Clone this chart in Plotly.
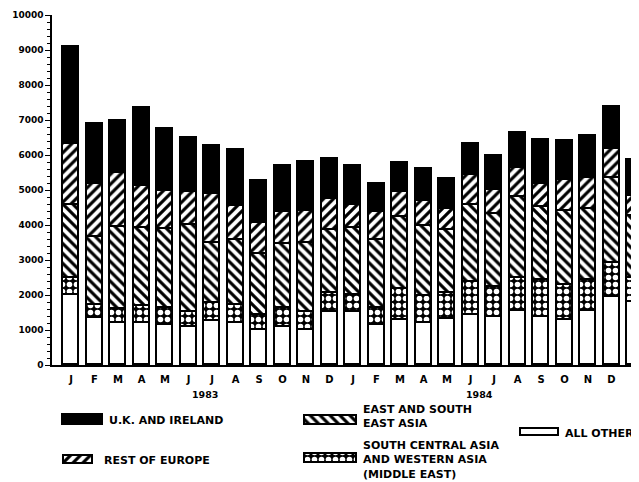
import plotly.graph_objects as go

months = ["J", "F", "M", "A", "M", "J", "J", "A", "S", "O", "N", "D",
          "J", "F", "M", "A", "M", "J", "J", "A", "S", "O", "N", "D", "J"]
years = ["1983", "1984"]

all_other = [2000, 1330, 1210, 1210, 1150, 1090, 1270, 1200, 1010, 1080, 990, 1510,
             1510, 1130, 1300, 1190, 1310, 1430, 1380, 1550, 1380, 1290, 1530, 1940, 1810]
south_central_asia = [500, 380, 380, 490, 470, 420, 510, 520, 420, 540, 520, 560,
                      490, 510, 880, 770, 760, 930, 860, 930, 1040, 1000, 910, 970, 670]
east_asia = [2080, 1950, 2350, 2220, 2260, 2480, 1700, 1840, 1730, 1850, 1990, 1790,
             1920, 1920, 2050, 2020, 1800, 2220, 2080, 2310, 2100, 2100, 2020, 2420, 1770]
rest_of_europe = [1730, 1520, 1560, 1190, 1100, 940, 1410, 990, 900, 890, 890, 880,
                  640, 800, 710, 700, 590, 840, 690, 830, 660, 890, 890, 850, 570]
uk_ireland = [2790, 1700, 1470, 2230, 1760, 1560, 1380, 1600, 1200, 1320, 1410, 1150,
              1140, 820, 820, 910, 850, 900, 960, 1020, 1240, 1120, 1190, 1190, 1050]

series_names = ["ALL OTHER", "SOUTH CENTRAL ASIA<br>AND WESTERN ASIA<br>(MIDDLE EAST)",
                "EAST AND SOUTH<br>EAST ASIA", "REST OF EUROPE", "U.K. AND IRELAND"]

FONT = "DejaVu Sans"
x = list(range(len(months)))

styles = [
    dict(color="white", pattern=dict(shape="")),
    dict(color="black", pattern=dict(shape=".", fgcolor="white", bgcolor="black", size=7, solidity=0.5, fillmode="replace")),
    dict(color="white", pattern=dict(shape="\\", fgcolor="black", bgcolor="white", size=7, solidity=0.45, fillmode="replace")),
    dict(color="white", pattern=dict(shape="/", fgcolor="black", bgcolor="white", size=7, solidity=0.45, fillmode="replace")),
    dict(color="black", pattern=dict(shape="")),
]
values = [all_other, south_central_asia, east_asia, rest_of_europe, uk_ireland]

fig = go.Figure()
for name, vals, st in zip(series_names, values, styles):
    fig.add_trace(go.Bar(
        x=x, y=vals, name=name.replace("<br>", " "), width=0.68,
        marker=dict(color=st["color"], pattern=st["pattern"],
                    line=dict(color="black", width=1.6)),
        showlegend=False, xaxis="x", yaxis="y",
    ))

# Legend (swatches on an overlay axis measured in screen pixels)
legend_items = [
    # (series index, x0, x1, yc, h, text x, text y)
    (4, 63, 103, 420, 10, 107, 420),
    (3, 64, 93, 460, 8, 102, 460),
    (2, 305, 357, 421, 9, 361, 416),
    (1, 305, 357, 459, 9, 361, 460),
    (0, 521, 559, 433, 7, 563, 433),
]
for si, x0, x1, yc, h, tx, ty in legend_items:
    st = styles[si]
    fig.add_trace(go.Bar(
        x=[x1 - x0], base=[x0], y=[yc], width=[h], orientation="h",
        marker=dict(color=st["color"], pattern=st["pattern"],
                    line=dict(color="black", width=1.6)),
        showlegend=False, xaxis="x2", yaxis="y2", hoverinfo="skip",
    ))
    fig.add_annotation(x=tx, y=ty, xref="x2", yref="y2", text="<b>" + series_names[si] + "</b>",
                       showarrow=False, xanchor="left", yanchor="middle", align="left",
                       font=dict(family=FONT, size=11, color="black"))

for yr, xp in zip(years, [5.7, 17.4]):
    fig.add_annotation(x=xp, y=394, xref="x", yref="y2", text="<b>" + yr + "</b>",
                       showarrow=False, xanchor="center", yanchor="middle",
                       font=dict(family=FONT, size=9.5, color="black"))

fig.update_layout(
    width=631, height=474,
    margin=dict(l=44, r=0, t=7, b=0),
    paper_bgcolor="white", plot_bgcolor="rgba(0,0,0,0)",
    barmode="stack", bargap=0,
    showlegend=False,
    xaxis=dict(range=[-0.809, 24.17], tickvals=x, ticktext=["<b>%s</b>" % m for m in months],
               showline=True, linecolor="black", linewidth=2, ticks="", showgrid=False,
               zeroline=False, anchor="y", domain=[0, 1], automargin=False,
               ticklabelstandoff=4,
               tickfont=dict(family=FONT, size=10, color="black")),
    yaxis=dict(range=[0, 10000], domain=[0.2505, 1], tickvals=list(range(0, 10001, 1000)),
               tickformat="d", showline=True, linecolor="black", linewidth=1.5,
               ticks="outside", ticklen=5, tickwidth=1.2, tickcolor="black",
               minor=dict(dtick=200, ticks="outside", ticklen=3, tickcolor="black", tickwidth=1),
               showgrid=False, zeroline=False, anchor="x", automargin=False,
               tickfont=dict(family=FONT, size=9, color="black", weight="bold")),
    xaxis2=dict(range=[52, 639], domain=[0, 1], anchor="y2", overlaying="x",
                visible=False, fixedrange=True),
    yaxis2=dict(range=[482, 365], domain=[0, 0.2505], anchor="x2",
                visible=False, fixedrange=True),
)

fig.write_html("out.html")
